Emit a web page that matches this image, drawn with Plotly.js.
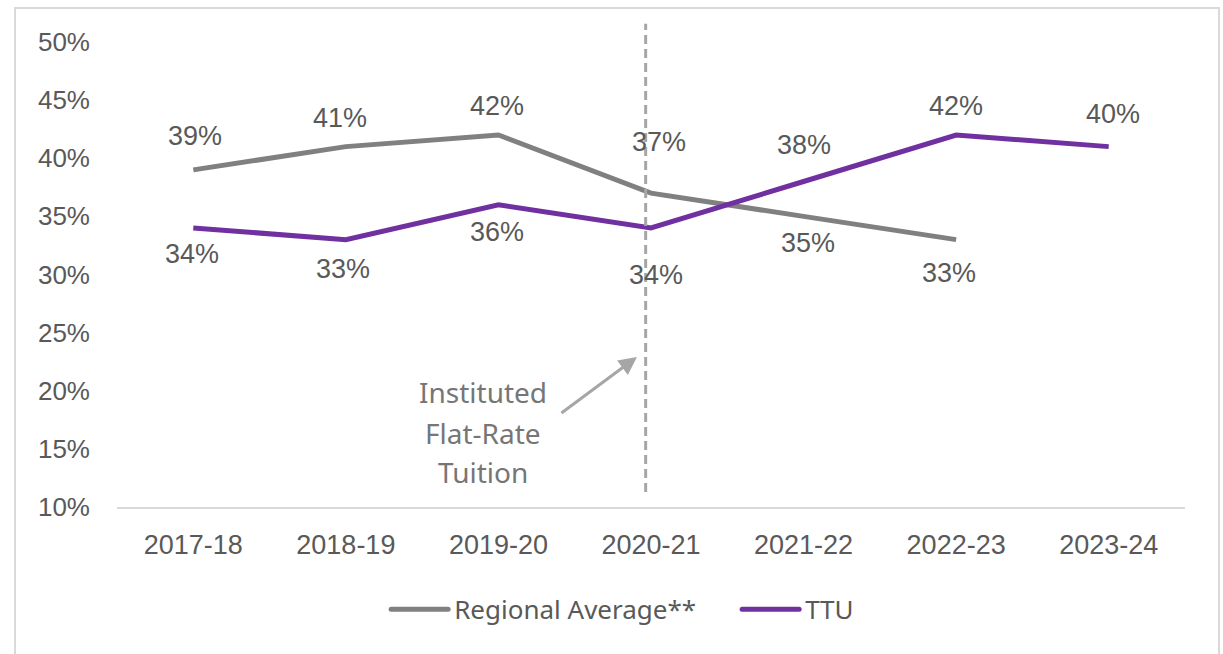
<!DOCTYPE html>
<html>
<head>
<meta charset="utf-8">
<script src="https://cdn.plot.ly/plotly-3.0.1.min.js"></script>
<style>
  html, body { margin: 0; padding: 0; background: #ffffff; }
  #frame { position: absolute; left: 14px; top: 7px; width: 1206px; height: 700px; border: 2px solid #d9d9d9; box-sizing: border-box; }
  #chart { position: absolute; left: 0; top: 0; width: 1223px; height: 654px; }
</style>
</head>
<body>
<div id="frame"></div>
<div id="chart"></div>
<script>
// ---- data ----
const categories = ['2017-18', '2018-19', '2019-20', '2020-21', '2021-22', '2022-23', '2023-24'];
const regionalName = 'Regional Average**';
const regionalValues = [39, 41, 42, 37, 35, 33];
const regionalLabels = ['39%', '41%', '42%', '37%', '35%', '33%'];
const ttuName = 'TTU';
const ttuValues = [34, 33, 36, 34, 38, 42, 41];
const ttuLabels = ['34%', '33%', '36%', '34%', '38%', '42%', '40%'];
const yTickValues = [10, 15, 20, 25, 30, 35, 40, 45, 50];
const yTickLabels = ['10%', '15%', '20%', '25%', '30%', '35%', '40%', '45%', '50%'];
const noteLines = ['Instituted', 'Flat-Rate', 'Tuition'];
const policyYear = '2020-21';

// ---- styling / placement ----
const GRAY = '#808080';
const PURPLE = '#7030A0';
const TEXT = '#595959';
const LABEL_FONT = 'Liberation Sans, Arial, sans-serif';
const NOTE_FONT = 'Noto Sans, sans-serif';

// vertical label offsets in px (positive = above the point)
const regionalDy = [34, 29, 29, 51, -27, -33];
const ttuDy = [-26, -29, -27, -47, 37, 29, 33];
const regionalDx = [2, -6, -1, 8, 4, -7];
const ttuDx = [-1, -3, -1, 5, 0, 0, 4];

const traces = [
  {
    x: categories.slice(0, regionalValues.length), y: regionalValues, name: regionalName,
    type: 'scatter', mode: 'lines',
    line: { color: GRAY, width: 5 }, hoverinfo: 'skip',
    legendwidth: 278
  },
  {
    x: categories, y: ttuValues, name: ttuName,
    type: 'scatter', mode: 'lines',
    line: { color: PURPLE, width: 5 }, hoverinfo: 'skip'
  }
];

const annotations = [];
function addLabels(vals, labels, dys, dxs) {
  vals.forEach((v, i) => {
    annotations.push({
      x: categories[i], y: v, xref: 'x', yref: 'y',
      text: labels[i], showarrow: false,
      xanchor: 'center', yanchor: 'middle',
      xshift: dxs[i], yshift: dys[i],
      font: { family: LABEL_FONT, size: 27, color: TEXT }
    });
  });
}
addLabels(regionalValues, regionalLabels, regionalDy, regionalDx);
addLabels(ttuValues, ttuLabels, ttuDy, ttuDx);

const policyIdx = categories.indexOf(policyYear);
// note text, one annotation per line
const noteY = [19.9, 16.4, 13.0];
noteLines.forEach((t, i) => {
  annotations.push({
    x: policyIdx - 1.1, y: noteY[i], xref: 'x', yref: 'y',
    text: t, showarrow: false, xanchor: 'center', yanchor: 'middle',
    font: { family: NOTE_FONT, size: 28, color: '#767676' }
  });
});
// arrow
annotations.push({
  x: policyIdx - 0.092, y: 22.9, xref: 'x', yref: 'y',
  ax: -77, ay: 57, axref: 'pixel', ayref: 'pixel',
  text: '', showarrow: true, arrowhead: 2, arrowsize: 1.2, arrowwidth: 3,
  arrowcolor: '#a6a6a6', standoff: 0
});

const layout = {
  width: 1223, height: 654,
  margin: { l: 117, r: 38, t: 42, b: 147 },
  paper_bgcolor: 'rgba(0,0,0,0)', plot_bgcolor: 'rgba(0,0,0,0)',
  showlegend: true,
  legend: {
    orientation: 'h', x: 0.252, xanchor: 'left', y: -0.22, yanchor: 'middle',
    font: { family: NOTE_FONT, size: 26, color: TEXT },
    itemwidth: 58
  },
  xaxis: {
    type: 'category', range: [-0.5, 6.5],
    showgrid: false, zeroline: false,
    showline: true, linecolor: '#d9d9d9', linewidth: 2,
    ticks: '', ticklabelstandoff: 13,
    tickfont: { family: LABEL_FONT, size: 27, color: TEXT },
    fixedrange: true
  },
  yaxis: {
    range: [10, 50], tickvals: yTickValues, ticktext: yTickLabels,
    showgrid: false, zeroline: false, showline: false,
    ticks: '', ticklabelstandoff: 26,
    tickfont: { family: LABEL_FONT, size: 26, color: TEXT },
    fixedrange: true
  },
  shapes: [
    {
      type: 'line', xref: 'x', yref: 'paper',
      x0: policyIdx - 0.035, x1: policyIdx - 0.035, y0: 0.032, y1: 1.039,
      line: { color: '#a6a6a6', width: 3, dash: '9px,5px' }
    }
  ],
  annotations: annotations
};

// lengthen the legend line swatches to match the reference
function stretchLegendLines() {
  const gd = document.getElementById('chart');
  gd.querySelectorAll('g.legendlines path, .legend path.js-line').forEach(function (p) {
    p.setAttribute('d', 'M5,0h57');
    p.style.strokeLinecap = 'round';
  });
}

Plotly.newPlot('chart', traces, layout, { displayModeBar: false, staticPlot: true }).then(function (gd) {
  stretchLegendLines();
  gd.on('plotly_afterplot', stretchLegendLines);
  requestAnimationFrame(stretchLegendLines);
  setTimeout(stretchLegendLines, 0);
});
</script>
</body>
</html>
